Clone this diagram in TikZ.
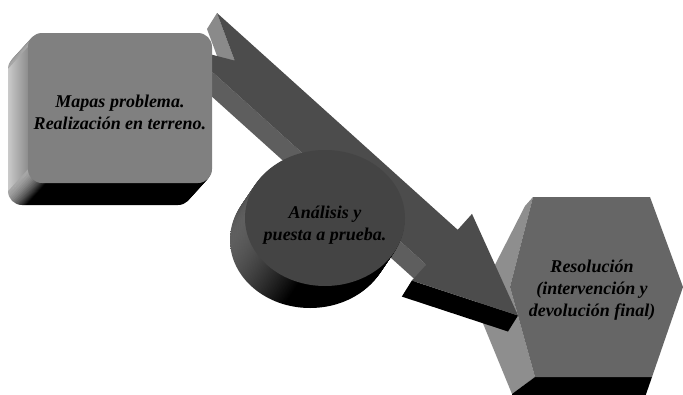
\documentclass[tikz,border=0pt]{standalone}
\usepackage{fontspec}
\setmainfont{Liberation Serif}
\usepackage{xcolor}
\usepackage{tikz}
\definecolor{boxface}{HTML}{808080}
\definecolor{boxside}{HTML}{A6A6A6}
\definecolor{arrowface}{HTML}{4C4C4C}
\definecolor{arrowside}{HTML}{5E5E5E}
\definecolor{arrowcap}{HTML}{8A8A8A}
\definecolor{discface}{HTML}{444444}
\definecolor{discside}{HTML}{5E5E5E}
\definecolor{hexface}{HTML}{666666}
\definecolor{hexside}{HTML}{8E8E8E}
\pgfdeclarehorizontalshading{boxrim}{100bp}{color(0bp)=(boxside); color(25bp)=(boxside); color(30bp)=(black); color(100bp)=(black)}
\pgfdeclarehorizontalshading{discrim}{100bp}{color(0bp)=(discside); color(25bp)=(discside); color(42bp)=(black); color(100bp)=(black)}
\tikzset{
  stagetext/.style={align=center, font=\fontsize{18}{22}\selectfont\bfseries\itshape, text=black, inner sep=0pt},
  boxfront/.style={fill=boxface, rounded corners=14pt},
  discfront/.style={fill=discface},
  hexfront/.style={fill=hexface},
  arrowfront/.style={fill=arrowface},
}

\begin{document}
\begin{tikzpicture}[x=1pt, y=-1pt]
\clip (0,0) rectangle (683,394);
\fill[white] (0,0) rectangle (683,394);
% hexagon
\fill[hexside] (533,197) -- (525,206) -- (475,304) -- (512,394) -- (535,377) -- (510,287) -- cycle;
\fill[black] (535,377) -- (512,394) -- (512,400) -- (644,400) -- (652,377) -- cycle;
\fill[hexfront] (533,197) -- (650,197) -- (683,287) -- (652,377) -- (535,377) -- (510,287) -- cycle;
% arrow
\coordinate (tailtop) at (217,13);
\coordinate (notchin) at (234.7,60.6);
\coordinate (tailbot) at (185.6,47.9);
\coordinate (shafttop) at (457.7,229.8);
\coordinate (wingtop) at (472,213.9);
\coordinate (tip) at (518,315.5);
\coordinate (wingbot) at (411.9,280.6);
\coordinate (shaftlow) at (426.3,264.7);
\fill[arrowside] (tailbot) -- (shaftlow) -- ([shift={(-10,16)}]shaftlow) -- ([shift={(-10,16)}]tailbot) -- cycle;
\fill[arrowside] (shaftlow) -- (wingbot) -- ([shift={(-10,16)}]wingbot) -- ([shift={(-10,16)}]shaftlow) -- cycle;
\fill[black] (wingbot) -- (tip) -- ([shift={(-10,16)}]tip) -- ([shift={(-10,16)}]wingbot) -- cycle;
\fill[arrowcap] (tailtop) -- (notchin) -- ([shift={(-10,16)}]notchin) -- ([shift={(-10,16)}]tailtop) -- cycle;
\fill[arrowfront] (tailtop) -- (shafttop) -- (wingtop) -- (tip) -- (wingbot) -- (shaftlow) -- (tailbot) -- (notchin) -- cycle;
% disc
\foreach \k in {22,...,1}
  \shade[shading=discrim, shift={(-0.68*\k,\k)}] (325,218) ellipse [x radius=80pt, y radius=68pt];
\fill[discfront] (325,218) ellipse [x radius=80pt, y radius=68pt];
% box
\foreach \k in {20,...,1}
  \shade[shading=boxrim, rounded corners=14pt, shift={(-\k,1.1*\k)}] (28,33) rectangle (212,183);
\shade[left color=boxside!60!white, right color=boxside!85!black] (28,47) -- (8,69) -- (8,191) -- (28,169) -- cycle;
\fill[boxfront] (28,33) rectangle (212,183);
\node[stagetext] (mapas) at (120,112) {Mapas problema.\\Realización en terreno.};
\node[stagetext] (analisis) at (325,225) {Análisis y\\puesta a prueba.};
\node[stagetext] (resolucion) at (592,290) {Resolución\\(intervención y\\devolución final)};
\end{tikzpicture}
\end{document}
